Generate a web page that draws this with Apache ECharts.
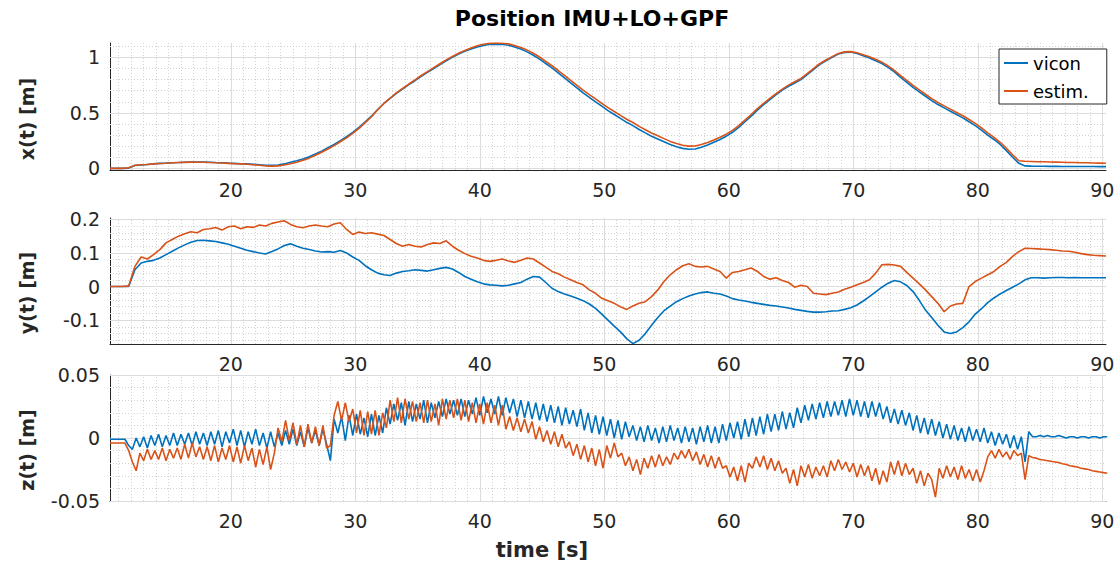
<!DOCTYPE html>
<html>
<head>
<meta charset="utf-8">
<title>Position IMU+LO+GPF</title>
<script src="https://cdn.jsdelivr.net/npm/echarts@6/dist/echarts.min.js"></script>
<style>
  html, body { margin: 0; padding: 0; background: #ffffff; }
  #chart { width: 1118px; height: 567px; }
</style>
</head>
<body>
<div id="chart"></div>
<script>
// ---- sampling of the logged signals (seconds) ----
const xyStart = 10.3, xyStep = 0.5;   // x(t), y(t)
const zStart = 10.3, zStep = 0.3;     // z(t)

// ---- x(t) [m] ----
const xVicon = [
  0, 0, 0, 0.002, 0.025, 0.03, 0.035, 0.04, 0.045, 0.047,
  0.05, 0.052, 0.055, 0.056, 0.057, 0.056, 0.055, 0.052, 0.05, 0.047,
  0.045, 0.042, 0.04, 0.036, 0.032, 0.028, 0.027, 0.03, 0.04, 0.055,
  0.068, 0.085, 0.105, 0.13, 0.155, 0.185, 0.215, 0.25, 0.285, 0.325,
  0.37, 0.42, 0.47, 0.53, 0.585, 0.63, 0.675, 0.715, 0.755, 0.79,
  0.83, 0.865, 0.9, 0.935, 0.97, 1.0, 1.03, 1.055, 1.075, 1.095,
  1.108, 1.118, 1.12, 1.118, 1.11, 1.095, 1.075, 1.05, 1.02, 0.985,
  0.945, 0.905, 0.86, 0.815, 0.77, 0.725, 0.68, 0.64, 0.6, 0.56,
  0.52, 0.485, 0.45, 0.415, 0.385, 0.35, 0.32, 0.29, 0.265, 0.24,
  0.215, 0.195, 0.18, 0.172, 0.175, 0.19, 0.21, 0.235, 0.26, 0.29,
  0.325, 0.37, 0.42, 0.47, 0.525, 0.575, 0.62, 0.665, 0.705, 0.74,
  0.77, 0.8, 0.845, 0.89, 0.935, 0.97, 1.0, 1.03, 1.045, 1.048,
  1.035, 1.015, 0.995, 0.97, 0.945, 0.91, 0.87, 0.82, 0.775, 0.73,
  0.69, 0.65, 0.61, 0.575, 0.545, 0.515, 0.485, 0.455, 0.42, 0.385,
  0.345, 0.3, 0.26, 0.215, 0.16, 0.1, 0.045, 0.022, 0.02, 0.019,
  0.019, 0.018, 0.018, 0.017, 0.017, 0.017, 0.016, 0.016, 0.016, 0.015,
  0.015
];
const xEstim = [
  0, 0, 0, 0.005, 0.028, 0.032, 0.035, 0.04, 0.043, 0.046,
  0.05, 0.052, 0.054, 0.056, 0.055, 0.055, 0.053, 0.05, 0.048, 0.045,
  0.042, 0.04, 0.037, 0.033, 0.028, 0.022, 0.02, 0.022, 0.03, 0.042,
  0.055, 0.072, 0.092, 0.118, 0.145, 0.175, 0.205, 0.24, 0.275, 0.315,
  0.36, 0.412, 0.465, 0.528, 0.585, 0.632, 0.68, 0.72, 0.76, 0.797,
  0.837, 0.872, 0.908, 0.943, 0.978, 1.008, 1.038, 1.063, 1.085, 1.105,
  1.118, 1.127, 1.13, 1.128, 1.122, 1.108, 1.09, 1.066, 1.038, 1.004,
  0.965, 0.925, 0.882, 0.838, 0.793, 0.749, 0.705, 0.665, 0.626, 0.586,
  0.547, 0.512, 0.477, 0.443, 0.413, 0.378, 0.348, 0.318, 0.293, 0.268,
  0.243, 0.223, 0.208, 0.2, 0.202, 0.215, 0.232, 0.255, 0.28, 0.308,
  0.342, 0.385, 0.435, 0.485, 0.538, 0.586, 0.63, 0.674, 0.714, 0.75,
  0.78, 0.81, 0.855, 0.9, 0.943, 0.977, 1.007, 1.036, 1.05, 1.052,
  1.042, 1.025, 1.007, 0.983, 0.957, 0.923, 0.884, 0.836, 0.792, 0.748,
  0.708, 0.668, 0.628, 0.594, 0.563, 0.534, 0.504, 0.474, 0.44, 0.405,
  0.365, 0.32, 0.28, 0.235, 0.18, 0.122, 0.068, 0.064, 0.062, 0.06,
  0.059, 0.057, 0.056, 0.055, 0.053, 0.052, 0.051, 0.05, 0.048, 0.047,
  0.046
];

// ---- y(t) [m] ----
const yVicon = [
  0, 0, 0, 0, 0.05, 0.07, 0.075, 0.078, 0.085, 0.095,
  0.105, 0.115, 0.124, 0.132, 0.137, 0.138, 0.136, 0.134, 0.13, 0.126,
  0.12, 0.114, 0.108, 0.104, 0.1, 0.097, 0.104, 0.112, 0.122, 0.127,
  0.12, 0.114, 0.11, 0.106, 0.103, 0.104, 0.102, 0.107, 0.1, 0.088,
  0.078, 0.062, 0.05, 0.04, 0.035, 0.033, 0.04, 0.045, 0.047, 0.05,
  0.048, 0.046, 0.05, 0.054, 0.057, 0.052, 0.042, 0.03, 0.022, 0.014,
  0.008, 0.005, 0.004, 0.002, 0.004, 0.008, 0.012, 0.022, 0.03, 0.028,
  0.012, -0.005, -0.015, -0.022, -0.028, -0.035, -0.042, -0.052, -0.065, -0.082,
  -0.1, -0.118, -0.135, -0.155, -0.17, -0.16, -0.14, -0.115, -0.092, -0.072,
  -0.058, -0.045, -0.036, -0.028, -0.022, -0.018, -0.016, -0.02, -0.022, -0.028,
  -0.036, -0.04, -0.043, -0.047, -0.05, -0.053, -0.056, -0.058, -0.061, -0.064,
  -0.068, -0.071, -0.074, -0.076, -0.076, -0.075, -0.073, -0.072, -0.068, -0.063,
  -0.055, -0.043, -0.03, -0.016, -0.002, 0.01, 0.018, 0.014, 0.003, -0.015,
  -0.041, -0.07, -0.092, -0.115, -0.135, -0.14, -0.135, -0.122, -0.105, -0.082,
  -0.066, -0.048, -0.034, -0.022, -0.012, -0.002, 0.008, 0.02, 0.026, 0.026,
  0.025, 0.026, 0.027, 0.027, 0.026, 0.027, 0.026, 0.026, 0.026, 0.026,
  0.026
];
const yEstim = [
  0, 0, 0, 0.002, 0.06, 0.088, 0.082, 0.095, 0.11, 0.13,
  0.14, 0.15, 0.157, 0.163, 0.16, 0.17, 0.172, 0.176, 0.168, 0.178,
  0.18, 0.172, 0.178, 0.176, 0.183, 0.18, 0.188, 0.192, 0.196, 0.185,
  0.178, 0.175, 0.18, 0.183, 0.18, 0.178, 0.186, 0.19, 0.17, 0.155,
  0.162, 0.158, 0.16, 0.156, 0.152, 0.14, 0.128, 0.12, 0.125, 0.12,
  0.118, 0.125, 0.13, 0.128, 0.136, 0.12, 0.108, 0.098, 0.09, 0.085,
  0.078, 0.075, 0.078, 0.082, 0.076, 0.072, 0.078, 0.085, 0.082, 0.07,
  0.058, 0.045, 0.038, 0.028, 0.02, 0.012, 0.005, -0.01, -0.02, -0.035,
  -0.042, -0.05, -0.06, -0.068, -0.058, -0.05, -0.045, -0.03, -0.01, 0.015,
  0.035, 0.05, 0.062, 0.068, 0.06, 0.058, 0.06, 0.052, 0.045, 0.025,
  0.042, 0.045, 0.05, 0.055, 0.045, 0.03, 0.022, 0.026, 0.018, 0.012,
  -0.002, 0.004, 0.0, -0.02, -0.022, -0.024, -0.02, -0.016, -0.008, -0.002,
  0.005, 0.012, 0.02, 0.04, 0.065, 0.066, 0.064, 0.06, 0.042, 0.025,
  0.008, -0.01, -0.03, -0.05, -0.075, -0.058, -0.052, -0.05, 0.0, 0.015,
  0.025, 0.035, 0.045, 0.06, 0.072, 0.09, 0.104, 0.114, 0.113, 0.112,
  0.111, 0.11, 0.108, 0.106, 0.105, 0.102, 0.098, 0.095, 0.093, 0.092,
  0.091
];

// ---- z(t) [m] ----
const zVicon = [
  -0.001, -0.001, -0.001, -0.001, -0.001, -0.006, -0.009, 0.000, -0.007, 0.001,
  -0.008, 0.002, -0.006, 0.003, -0.007, 0.002, -0.006, 0.004, -0.006, 0.003,
  -0.005, 0.004, -0.006, 0.005, -0.005, 0.004, -0.006, 0.005, -0.005, 0.006,
  -0.007, 0.005, -0.004, 0.007, -0.006, 0.006, -0.007, 0.005, -0.005, 0.007,
  -0.006, 0.004, -0.008, 0.005, -0.007, 0.004, -0.006, 0.006, -0.005, 0.007,
  -0.006, 0.005, -0.007, 0.008, -0.004, 0.006, -0.006, 0.007, -0.005, -0.018,
  0.015, 0.004, 0.017, -0.002, 0.018, 0.002, 0.019, 0.003, 0.016, 0.001,
  0.019, 0.002, 0.018, 0.004, 0.024, 0.011, 0.027, 0.014, 0.028, 0.010,
  0.029, 0.013, 0.027, 0.015, 0.030, 0.012, 0.028, 0.016, 0.029, 0.017,
  0.031, 0.019, 0.030, 0.018, 0.031, 0.017, 0.030, 0.019, 0.032, 0.018,
  0.033, 0.020, 0.031, 0.019, 0.033, 0.018, 0.032, 0.020, 0.031, 0.017,
  0.030, 0.016, 0.029, 0.015, 0.028, 0.014, 0.027, 0.013, 0.026, 0.012,
  0.025, 0.010, 0.024, 0.011, 0.022, 0.009, 0.023, 0.006, 0.020, 0.004,
  0.018, 0.003, 0.017, 0.002, 0.015, 0.000, 0.014, -0.001, 0.013, 0.001,
  0.010, -0.002, 0.009, -0.003, 0.010, -0.002, 0.008, -0.004, 0.009, -0.003,
  0.010, -0.002, 0.008, -0.004, 0.009, -0.003, 0.008, -0.005, 0.009, -0.003,
  0.010, -0.004, 0.009, -0.004, 0.011, -0.002, 0.012, 0.000, 0.013, -0.001,
  0.015, 0.001, 0.016, 0.002, 0.017, 0.003, 0.019, 0.005, 0.019, 0.006,
  0.021, 0.007, 0.020, 0.008, 0.024, 0.012, 0.026, 0.014, 0.027, 0.015,
  0.028, 0.016, 0.029, 0.017, 0.029, 0.018, 0.030, 0.017, 0.031, 0.018,
  0.030, 0.017, 0.029, 0.016, 0.029, 0.017, 0.028, 0.015, 0.025, 0.012,
  0.023, 0.011, 0.022, 0.010, 0.020, 0.006, 0.018, 0.004, 0.016, 0.003,
  0.015, 0.002, 0.013, 0.000, 0.011, -0.001, 0.010, -0.002, 0.008, -0.003,
  0.009, -0.002, 0.007, -0.003, 0.008, -0.004, 0.005, -0.006, 0.004, -0.005,
  0.003, -0.008, 0.002, -0.009, 0.001, -0.019, 0.005, 0.001, 0.001, 0.002,
  0.001, 0.002, 0.001, 0.001, 0.002, 0.001, 0.000, 0.001, 0.001, 0.000,
  0.001, 0.001, 0.000, 0.001, 0.001, 0.000, 0.001, 0.001
];
const zEstim = [
  -0.004, -0.004, -0.004, -0.004, -0.004, -0.010, -0.019, -0.026, -0.012, -0.018,
  -0.009, -0.017, -0.010, -0.017, -0.008, -0.018, -0.009, -0.016, -0.008, -0.017,
  -0.005, -0.016, -0.004, -0.015, -0.007, -0.017, -0.007, -0.018, -0.006, -0.019,
  -0.008, -0.017, -0.006, -0.019, -0.007, -0.020, -0.006, -0.018, -0.008, -0.023,
  -0.009, -0.021, -0.007, -0.025, -0.012, 0.008, -0.003, 0.014, -0.002, 0.012,
  -0.005, 0.010, -0.007, 0.011, -0.004, 0.009, -0.006, 0.010, -0.008, -0.006,
  0.018, 0.029, 0.014, 0.028, 0.013, 0.023, 0.004, 0.022, 0.002, 0.021,
  0.003, 0.022, 0.002, 0.020, 0.008, 0.030, 0.013, 0.032, 0.012, 0.031,
  0.015, 0.029, 0.013, 0.028, 0.012, 0.030, 0.013, 0.027, 0.010, 0.031,
  0.015, 0.030, 0.016, 0.031, 0.014, 0.030, 0.013, 0.028, 0.012, 0.027,
  0.011, 0.028, 0.012, 0.026, 0.010, 0.026, 0.007, 0.017, 0.006, 0.016,
  0.005, 0.015, 0.004, 0.013, -0.001, 0.009, -0.003, 0.006, -0.005, 0.005,
  -0.007, 0.003, -0.008, -0.003, -0.014, -0.005, -0.017, -0.006, -0.019, -0.008,
  -0.022, -0.009, -0.024, -0.006, -0.016, -0.004, -0.015, -0.012, -0.022, -0.015,
  -0.026, -0.017, -0.029, -0.016, -0.024, -0.014, -0.023, -0.013, -0.022, -0.015,
  -0.021, -0.012, -0.017, -0.010, -0.016, -0.009, -0.018, -0.011, -0.021, -0.013,
  -0.023, -0.014, -0.024, -0.015, -0.024, -0.022, -0.031, -0.023, -0.034, -0.022,
  -0.035, -0.020, -0.024, -0.015, -0.023, -0.014, -0.025, -0.016, -0.026, -0.018,
  -0.028, -0.024, -0.036, -0.025, -0.038, -0.022, -0.031, -0.021, -0.032, -0.023,
  -0.030, -0.022, -0.031, -0.018, -0.026, -0.017, -0.025, -0.019, -0.027, -0.020,
  -0.031, -0.021, -0.030, -0.022, -0.034, -0.024, -0.037, -0.026, -0.035, -0.019,
  -0.029, -0.018, -0.030, -0.020, -0.029, -0.024, -0.036, -0.026, -0.038, -0.028,
  -0.033, -0.047, -0.024, -0.032, -0.022, -0.031, -0.023, -0.033, -0.022, -0.032,
  -0.025, -0.034, -0.025, -0.035, -0.026, -0.015, -0.010, -0.016, -0.009, -0.015,
  -0.011, -0.017, -0.010, -0.014, -0.012, -0.033, -0.014, -0.0155, -0.016, -0.017,
  -0.0175, -0.018, -0.0185, -0.019, -0.0195, -0.0205, -0.021, -0.022, -0.0225, -0.023,
  -0.024, -0.0245, -0.025, -0.026, -0.0265, -0.027, -0.0275, -0.028
];

// ---- axes: extents and tick labels ----
const timeRange = [10.3, 90.3];
const timeTicks = [20, 30, 40, 50, 60, 70, 80, 90];
const xRange = [-0.015, 1.13];
const xTicks = [0, 0.5, 1];
const yRange = [-0.171, 0.204];
const yTicks = [-0.1, 0, 0.1, 0.2];
const zRange = [-0.05, 0.05];
const zTicks = [-0.05, 0, 0.05];

const BLUE = '#0072BD';
const ORANGE = '#D95319';
const INK = '#262626';
const FONT = 'DejaVu Sans';

// pair each sample with its time stamp
function toPairs(values, start, step) {
  return values.map((v, i) => [+(start + i * step).toFixed(2), v]);
}

// minor grid positions between the major ticks of an axis
function minorValues(lo, hi, step, majors) {
  const out = [];
  const n = Math.round((hi - lo) / step);
  for (let k = 0; k <= n; k++) {
    const v = +(lo + k * step).toFixed(4);
    if (!majors.some(m => Math.abs(m - v) < step / 10)) out.push(v);
  }
  return out;
}

const majorStyle = { color: '#dcdcdc', width: 1, type: 'solid' };
const minorStyle = { color: '#d2d2d2', width: 1, type: [1, 2] };

const panels = [
  { range: xRange, ticks: xTicks, minor: minorValues(0, 1.1, 0.1, xTicks),
    vicon: xVicon, estim: xEstim, start: xyStart, step: xyStep,
    grid: { left: 110, width: 996, top: 43, height: 127 } },
  { range: yRange, ticks: yTicks, minor: minorValues(-0.16, 0.2, 0.02, yTicks),
    vicon: yVicon, estim: yEstim, start: xyStart, step: xyStep,
    grid: { left: 110, width: 996, top: 218, height: 126 } },
  { range: zRange, ticks: zTicks, minor: minorValues(-0.045, 0.045, 0.005, zTicks),
    vicon: zVicon, estim: zEstim, start: zStart, step: zStep,
    grid: { left: 110, width: 996, top: 375, height: 126 } }
];
const timeMinor = minorValues(11, 90, 1, timeTicks);

const grids = [], xAxes = [], yAxes = [], series = [];

panels.forEach((p, g) => {
  grids.push(Object.assign({ containLabel: false }, p.grid));

  xAxes.push({
    type: 'value', gridIndex: g, min: timeRange[0], max: timeRange[1],
    axisLine: { show: true, onZero: false, lineStyle: { color: INK, width: 1 } },
    axisTick: { show: true, inside: true, length: 9, customValues: timeTicks,
                lineStyle: { color: INK, width: 1 } },
    axisLabel: { customValues: timeTicks, color: INK, fontFamily: FONT, fontSize: 19, margin: 10 },
    splitLine: { show: false }
  });

  yAxes.push({
    type: 'value', gridIndex: g, min: p.range[0], max: p.range[1],
    axisLine: { show: true, onZero: false, lineStyle: { color: INK, width: 1 } },
    axisTick: { show: true, inside: true, length: 9, customValues: p.ticks,
                lineStyle: { color: INK, width: 1 } },
    axisLabel: { customValues: p.ticks, color: INK, fontFamily: FONT, fontSize: 19, margin: 10 },
    splitLine: { show: false }
  });

  // background grid: dotted minor lines, solid major lines
  const lines = []
    .concat(timeMinor.map(v => ({ xAxis: v, lineStyle: minorStyle })))
    .concat(p.minor.map(v => ({ yAxis: v, lineStyle: minorStyle })))
    .concat(timeTicks.map(v => ({ xAxis: v, lineStyle: majorStyle })))
    .concat(p.ticks.map(v => ({ yAxis: v, lineStyle: majorStyle })));

  series.push({
    type: 'line', xAxisIndex: g, yAxisIndex: g, data: [], silent: true,
    z: 1, animation: false,
    markLine: {
      silent: true, z: 1, animation: false, symbol: ['none', 'none'],
      label: { show: false }, emphasis: { disabled: true },
      data: lines
    }
  });

  series.push({
    name: 'vicon', type: 'line', xAxisIndex: g, yAxisIndex: g,
    data: toPairs(p.vicon, p.start, p.step),
    symbol: 'none', showSymbol: false, z: 3, animation: false,
    lineStyle: { color: BLUE, width: 1.6 }, itemStyle: { color: BLUE }
  });
  series.push({
    name: 'estim.', type: 'line', xAxisIndex: g, yAxisIndex: g,
    data: toPairs(p.estim, p.start, p.step),
    symbol: 'none', showSymbol: false, z: 4, animation: false,
    lineStyle: { color: ORANGE, width: 1.6 }, itemStyle: { color: ORANGE }
  });
});

const chart = echarts.init(document.getElementById('chart'), null, { renderer: 'svg' });
chart.setOption({
  backgroundColor: '#ffffff',
  animation: false,
  grid: grids,
  xAxis: xAxes,
  yAxis: yAxes,
  series: series,
  legend: {
    data: ['vicon', 'estim.'], orient: 'vertical', left: 999, top: 49,
    icon: 'rect', itemWidth: 24, itemHeight: 2, itemGap: 8, selectedMode: false,
    padding: [4, 18, 3, 5], backgroundColor: '#ffffff',
    borderColor: INK, borderWidth: 1, borderRadius: 0,
    textStyle: { color: '#000000', fontFamily: FONT, fontSize: 18, lineHeight: 20 }
  },
  graphic: [
    { type: 'text', x: 592, y: 18, z: 10,
      style: { text: 'Position IMU+LO+GPF', fill: '#000000', font: 'bold 22px "DejaVu Sans"', align: 'center', verticalAlign: 'middle' } },
    { type: 'text', x: 27, y: 119, rotation: Math.PI / 2, z: 10,
      style: { text: 'x(t) [m]', fill: INK, font: 'bold 19px "DejaVu Sans"', align: 'center', verticalAlign: 'middle' } },
    { type: 'text', x: 27, y: 293, rotation: Math.PI / 2, z: 10,
      style: { text: 'y(t) [m]', fill: INK, font: 'bold 19px "DejaVu Sans"', align: 'center', verticalAlign: 'middle' } },
    { type: 'text', x: 27, y: 450, rotation: Math.PI / 2, z: 10,
      style: { text: 'z(t) [m]', fill: INK, font: 'bold 19px "DejaVu Sans"', align: 'center', verticalAlign: 'middle' } },
    { type: 'text', x: 542, y: 550, z: 10,
      style: { text: 'time [s]', fill: INK, font: 'bold 21px "DejaVu Sans"', align: 'center', verticalAlign: 'middle' } }
  ]
});
</script>
</body>
</html>
